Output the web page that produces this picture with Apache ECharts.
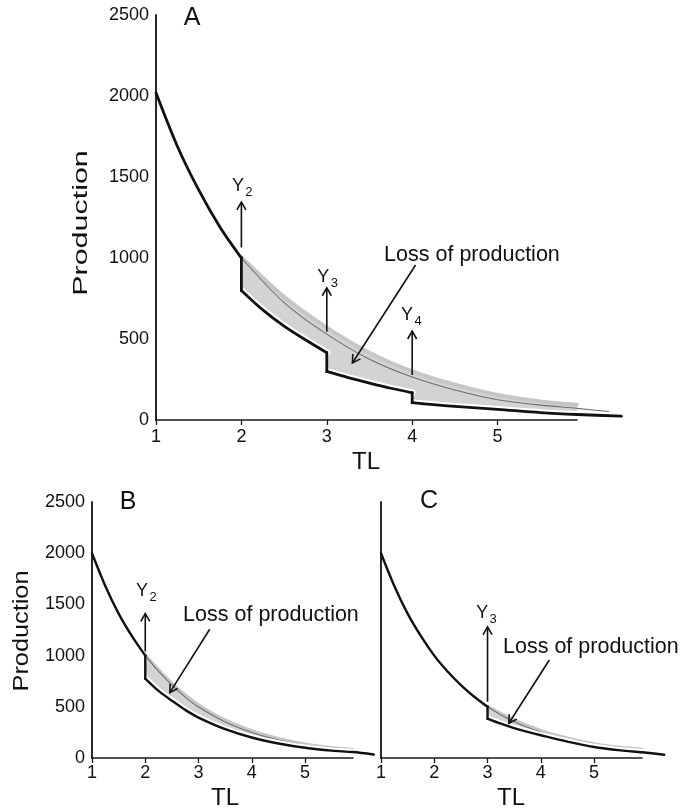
<!DOCTYPE html>
<html><head><meta charset="utf-8">
<script src="https://cdn.jsdelivr.net/npm/echarts@6/dist/echarts.min.js"></script>
<style>html,body{margin:0;padding:0;background:#fff}#c{width:698px;height:809px}</style>
</head><body><div id="c"></div>
<script>
// ---------------- data ----------------
const tlTicks = [1, 2, 3, 4, 5];
const prodTicks = [0, 500, 1000, 1500, 2000, 2500];

// Panel A
const A_fished1 = [[1,2020],[1.25,1690],[1.5,1420],[1.75,1190],[2,1000]];
const A_fished2 = [[2,800],[2.25,680],[2.5,580],[2.75,495],[3,415]];
const A_fished3 = [[3,300],[3.25,262],[3.5,228],[3.75,196],[4,168]];
const A_fished4 = [[4,107],[4.25,95],[4.5,84],[5,66],[5.5,46],[5.93,34],[6.45,24]];
const A_unfished = [[2,1000],[2.5,725],[3,530],[3.5,375],[4,265],[4.5,185],[5,125],[5.5,92],[5.93,72],[6.3,52]];
const A_band = [[2,1005],[2.5,760],[3,570],[3.5,415],[4,300],[4.5,218],[5,155],[5.5,115],[5.93,94]];

// Panel B
const B_fished1 = [[1,2000],[1.25,1680],[1.5,1410],[1.75,1190],[2,1000]];
const B_fished2 = [[2,775],[2.25,655],[2.5,560],[2.75,470],[3,395],[3.5,282],[4,200],[4.5,142],[5,100],[5.5,72],[5.9,58],[6.29,34]];
const B_unfished = [[2,1000],[2.25,845],[2.5,712],[2.75,595],[3,498],[3.5,352],[4,250],[4.5,176],[5,124],[5.5,90],[5.9,72]];
const B_band = [[2,1005],[2.5,730],[3,520],[3.5,372],[4,268],[4.5,192],[5,138],[5.5,102],[5.9,84]];

// Panel C
const C_fished1 = [[1,2000],[1.25,1680],[1.5,1410],[1.75,1190],[2,1000],[2.25,845],[2.5,712],[2.75,598],[3,500]];
const C_fished2 = [[3,385],[3.25,335],[3.5,292],[3.75,255],[4,222],[4.5,160],[5,108],[5.5,75],[5.9,56],[6.32,32]];
const C_unfished = [[3,500],[3.25,420],[3.5,355],[3.75,300],[4,252],[4.5,180],[5,126],[5.5,92],[5.9,74]];
const C_band = [[3,505],[3.5,372],[4,270],[4.5,196],[5,140],[5.5,104],[5.9,86]];

// annotations: arrows [x1,y1,x2,y2] (data units), Y labels [x,y,subscript]
const A_arrows = [[2,1065,2,1345],[3,545,3,815],[4,278,4,548],[4.04,957,3.30,352]];
const A_yLabels = [[1.96,1444,'2'],[2.96,882,'3'],[3.94,648,'4']];
const A_lossAt = [4.70,1018];
const B_arrows = [[2,1040,2,1410],[3.21,1257,2.46,638]];
const B_yLabels = [[1.94,1631,'2']];
const B_lossAt = [4.36,1396];
const C_arrows = [[3,550,3,1280],[4.16,957,3.40,339]];
const C_yLabels = [[2.90,1416,'3']];
const C_lossAt = [4.94,1084];
const lossText = 'Loss of production';

// ---------------- helpers ----------------
const FONT = '"Liberation Sans", Arial, Helvetica, sans-serif';
const INK = '#111';

function lineS(g, data, color, width, z, extra) {
  return Object.assign({
    type: 'line', xAxisIndex: g, yAxisIndex: g, data: data,
    showSymbol: false, symbol: 'none', smooth: 0.3,
    clip: false, silent: true, animation: false, z: z,
    lineStyle: { color: color, width: width, cap: 'round', join: 'round' }
  }, extra || {});
}
function connector(g, a, b, width) {
  return lineS(g, [a[a.length - 1], b[0]], INK, width, 5, { smooth: false, lineStyle: { color: INK, width: width, cap: 'square' } });
}
function fillPoly(g, upper, lowerSegs) {
  const xEnd = upper[upper.length - 1][0];
  const lower = [].concat(...lowerSegs).filter(p => p[0] <= xEnd + 1e-9);
  const pts = upper.concat(lower.slice().reverse());
  return {
    type: 'custom', xAxisIndex: g, yAxisIndex: g, z: 1, silent: true, animation: false,
    data: [pts[0]],
    renderItem: (params, api) => ({
      type: 'polygon', shape: { points: pts.map(p => api.coord(p)) },
      style: { fill: '#d3d3d3', stroke: null }
    })
  };
}
function arrowS(g, arrows) {
  return {
    type: 'custom', xAxisIndex: g, yAxisIndex: g, z: 7, silent: true, animation: false, clip: false,
    data: arrows, encode: { x: [0, 2], y: [1, 3] },
    renderItem: (params, api) => {
      const s = api.coord([api.value(0), api.value(1)]);
      const t = api.coord([api.value(2), api.value(3)]);
      const dx = t[0] - s[0], dy = t[1] - s[1], len = Math.hypot(dx, dy);
      const ux = dx / len, uy = dy / len, L = 9, a = Math.PI / 6, c = Math.cos(a), sn = Math.sin(a);
      const h1 = [t[0] - L * (ux * c - uy * sn), t[1] - L * (uy * c + ux * sn)];
      const h2 = [t[0] - L * (ux * c + uy * sn), t[1] - L * (uy * c - ux * sn)];
      const st = { stroke: INK, lineWidth: 1.6, fill: null };
      return { type: 'group', children: [
        { type: 'line', shape: { x1: s[0], y1: s[1], x2: t[0], y2: t[1] }, style: st },
        { type: 'polyline', shape: { points: [h1, t, h2] }, style: st }
      ] };
    }
  };
}
function textS(g, yLabels, lossAt) {
  const items = yLabels.map(l => [l[0], l[1]]).concat([lossAt]);
  return {
    type: 'custom', xAxisIndex: g, yAxisIndex: g, z: 8, silent: true, animation: false, clip: false,
    data: items,
    renderItem: (params, api) => {
      const i = params.dataIndex;
      const p = api.coord([api.value(0), api.value(1)]);
      if (i < yLabels.length) {
        return { type: 'group', children: [
          { type: 'text', x: p[0], y: p[1], style: { text: 'Y', fontSize: 18, fontFamily: FONT, fill: INK, align: 'center', verticalAlign: 'middle' } },
          { type: 'text', x: p[0] + 11, y: p[1] + 6, style: { text: yLabels[i][2], fontSize: 13, fontFamily: FONT, fill: INK, align: 'center', verticalAlign: 'middle' } }
        ] };
      }
      return { type: 'text', x: p[0], y: p[1], style: { text: lossText, fontSize: 21.5, fontFamily: FONT, fill: INK, align: 'center', verticalAlign: 'middle' } };
    }
  };
}
// visible axes (grids 0..2)
function xAx(g, max) {
  return {
    type: 'value', gridIndex: g, min: 1, max: max,
    axisLine: { show: true, onZero: false, lineStyle: { color: '#1a1a1a', width: 1.6 } },
    axisTick: { show: true, length: 5, customValues: tlTicks, lineStyle: { color: '#1a1a1a', width: 1.3 } },
    axisLabel: { show: true, customValues: tlTicks, fontSize: 18, fontFamily: FONT, color: '#111', margin: g === 0 ? 8 : 6, formatter: v => String(v) },
    splitLine: { show: false }
  };
}
function yAx(g, showLabels) {
  return {
    type: 'value', gridIndex: g, min: 0, max: 2500, interval: 500,
    axisLine: { show: true, lineStyle: { color: '#111', width: 1.8 } },
    axisTick: { show: false },
    axisLabel: { show: showLabels, fontSize: 18, fontFamily: FONT, color: '#111', margin: 7, formatter: v => String(v) },
    splitLine: { show: false }
  };
}
// hidden data axes (grids 3..5), same scale, wider extent so curves run past the axis line
function hx(g, max) {
  return { type: 'value', gridIndex: g, min: 1, max: max, show: false, splitLine: { show: false } };
}
function hy(g) {
  return { type: 'value', gridIndex: g, min: 0, max: 2500, show: false, splitLine: { show: false } };
}

// ---------------- series ----------------
const series = [];
function panel(g, segs, unfished, band, arrows, yLabels, lossAt, bandW, blackW) {
  series.push(fillPoly(g, band, segs.slice(1)));
  series.push(lineS(g, band, '#c6c6c6', bandW, 2));
  series.push(lineS(g, unfished, '#6f6f6f', 1.1, 3));
  segs.slice(1).forEach(s => series.push(lineS(g, s, '#ffffff', blackW + 4, 4)));
  segs.forEach(s => series.push(lineS(g, s, INK, blackW, 6)));
  for (let i = 0; i + 1 < segs.length; i++) series.push(connector(g, segs[i], segs[i + 1], blackW));
  series.push(arrowS(g, arrows));
  series.push(textS(g, yLabels, lossAt));
}
panel(3, [A_fished1, A_fished2, A_fished3, A_fished4], A_unfished, A_band, A_arrows, A_yLabels, A_lossAt, 4, 2.8);
panel(4, [B_fished1, B_fished2], B_unfished, B_band, B_arrows, B_yLabels, B_lossAt, 3, 2.4);
panel(5, [C_fished1, C_fished2], C_unfished, C_band, C_arrows, C_yLabels, C_lossAt, 3, 2.4);

// ---------------- chart ----------------
const AX = { l: 156, t: 15, w: 421, h: 405, max: 5.93, dmax: 6.6 };
const BX = { l: 92, t: 502, w: 261, h: 256, max: 5.9, dmax: 6.5 };
const CX = { l: 381, t: 502, w: 261, h: 256, max: 5.9, dmax: 6.5 };
function dataGrid(p) { return { left: p.l, top: p.t, height: p.h, width: p.w * (p.dmax - 1) / (p.max - 1) }; }

const chart = echarts.init(document.getElementById('c'), null, { renderer: 'canvas' });
chart.setOption({
  animation: false,
  backgroundColor: '#ffffff',
  grid: [
    { left: AX.l, top: AX.t, width: AX.w, height: AX.h },
    { left: BX.l, top: BX.t, width: BX.w, height: BX.h },
    { left: CX.l, top: CX.t, width: CX.w, height: CX.h },
    dataGrid(AX), dataGrid(BX), dataGrid(CX)
  ],
  xAxis: [xAx(0, AX.max), xAx(1, BX.max), xAx(2, CX.max), hx(3, AX.dmax), hx(4, BX.dmax), hx(5, CX.dmax)],
  yAxis: [yAx(0, true), yAx(1, true), yAx(2, false), hy(3), hy(4), hy(5)],
  graphic: [
    { type: 'text', x: 192, y: 18, style: { text: 'A', fontSize: 25, fontFamily: FONT, fill: INK, align: 'center', verticalAlign: 'middle' } },
    { type: 'text', x: 128, y: 502, style: { text: 'B', fontSize: 25, fontFamily: FONT, fill: INK, align: 'center', verticalAlign: 'middle' } },
    { type: 'text', x: 429, y: 501, style: { text: 'C', fontSize: 25, fontFamily: FONT, fill: INK, align: 'center', verticalAlign: 'middle' } },
    { type: 'text', x: 81, y: 223, rotation: Math.PI / 2, scaleX: 1.45, style: { text: 'Production', fontSize: 21, fontFamily: FONT, fill: INK, align: 'center', verticalAlign: 'middle' } },
    { type: 'text', x: 22, y: 631, rotation: Math.PI / 2, scaleX: 1.15, style: { text: 'Production', fontSize: 22, fontFamily: FONT, fill: INK, align: 'center', verticalAlign: 'middle' } },
    { type: 'text', x: 366, y: 462, style: { text: 'TL', fontSize: 24, fontFamily: FONT, fill: INK, align: 'center', verticalAlign: 'middle' } },
    { type: 'text', x: 225, y: 798, style: { text: 'TL', fontSize: 24, fontFamily: FONT, fill: INK, align: 'center', verticalAlign: 'middle' } },
    { type: 'text', x: 511, y: 798, style: { text: 'TL', fontSize: 24, fontFamily: FONT, fill: INK, align: 'center', verticalAlign: 'middle' } }
  ],
  series: series
});
</script>
</body></html>
